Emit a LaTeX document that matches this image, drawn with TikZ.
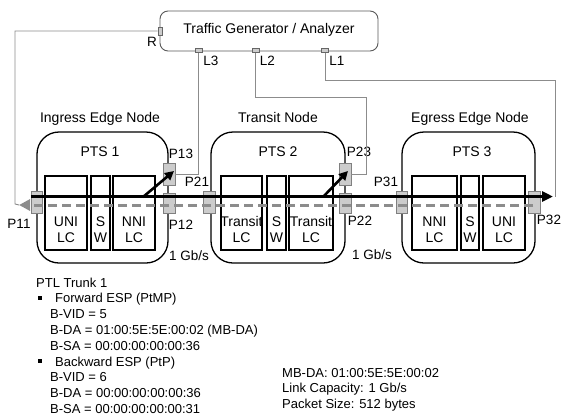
\documentclass[tikz,border=0pt]{standalone}
\usepackage{fontspec}
\setmainfont{Liberation Sans}
\usetikzlibrary{arrows.meta}
\begin{document}
\begin{tikzpicture}[x=1pt,y=-1pt,
  lab/.style={inner sep=0pt, text height=0.716em, text depth=0pt, font=\fontsize{14}{16}\selectfont},
  plab/.style={lab, font=\fontsize{13.5}{16}\selectfont},
  small/.style={inner sep=0pt, anchor=base west, font=\fontsize{13}{15}\selectfont},
  container/.style={draw, line width=1.3pt, rounded corners=22pt, inner sep=0pt, minimum height=131pt},
  lcbox/.style={draw, line width=1.3pt, inner sep=0pt, minimum height=74pt},
  port/.style={draw=black!50, fill=black!20, line width=0.7pt, inner sep=0pt, minimum width=12pt, minimum height=22pt},
  tport/.style={draw=black!60, fill=black!20, line width=0.6pt, inner sep=0pt},
  tgbox/.style={draw=black!65, line width=0.9pt, rounded corners=8pt, inner sep=0pt},
  conn/.style={draw=black!45, line width=0.9pt},
  fwd/.style={draw=black, line width=3pt, -{Triangle[length=11pt,width=10pt]}},
  bwd/.style={draw=black!45, line width=3pt, dash pattern=on 9pt off 5pt, -{Triangle[length=11pt,width=11pt]}},
  diag/.style={draw=black, line width=2.6pt, -{Triangle[length=9pt,width=9pt]}},
  bul/.style={fill=black, inner sep=0pt, minimum size=4pt}
]
\useasboundingbox (0,0) rectangle (563,416);

% Traffic generator
\node[tgbox, minimum width=218pt, minimum height=40pt] (tg) at (269,31) {};
\node[lab] (tgl) at (269,29.5) {Traffic Generator / Analyzer};
\node[tport, minimum width=4pt, minimum height=8pt] (R) at (160,31) {};
\node[tport, minimum width=7pt, minimum height=4pt] (L3) at (198.5,50.5) {};
\node[tport, minimum width=7pt, minimum height=4pt] (L2) at (255.5,50.5) {};
\node[tport, minimum width=7pt, minimum height=4pt] (L1) at (325,50.5) {};
\node[plab] (Rl) at (152,43) {R};
\node[plab] (L3l) at (211,62) {L3};
\node[plab] (L2l) at (267.5,62) {L2};
\node[plab] (L1l) at (337,62) {L1};

% Containers
\node[container, minimum width=131pt] (ing) at (102.5,197.5) {};
\node[container, minimum width=134pt] (tra) at (278,197.5) {};
\node[container, minimum width=133pt] (egr) at (468.5,197.5) {};
\node[lab] (ingl) at (100,119) {Ingress Edge Node};
\node[lab] (tral) at (278,119) {Transit Node};
\node[lab] (egrl) at (470,119) {Egress Edge Node};
\node[lab] (pts1) at (100,153) {PTS 1};
\node[lab] (pts2) at (278,153) {PTS 2};
\node[lab] (pts3) at (472,153) {PTS 3};

% Line cards
\node[lcbox, minimum width=42pt] (b11) at (66,213) {};
\node[lcbox, minimum width=19pt] (b12) at (100.5,213) {};
\node[lcbox, minimum width=42pt] (b13) at (134,213) {};
\node[lcbox, minimum width=41pt] (b21) at (241.5,213) {};
\node[lcbox, minimum width=19pt] (b22) at (276.5,213) {};
\node[lcbox, minimum width=44pt] (b23) at (311,213) {};
\node[lcbox, minimum width=45pt] (b31) at (434.5,213) {};
\node[lcbox, minimum width=18pt] (b32) at (470,213) {};
\node[lcbox, minimum width=42pt] (b33) at (504,213) {};

\node[lab] (t11a) at (66,223) {UNI};   \node[lab] (t11b) at (66,239) {LC};
\node[lab] (t12a) at (100.5,223) {S};  \node[lab] (t12b) at (100.5,239) {W};
\node[lab] (t13a) at (134,223) {NNI};  \node[lab] (t13b) at (134,239) {LC};
\node[lab] (t21a) at (241.5,223) {Transit}; \node[lab] (t21b) at (241.5,239) {LC};
\node[lab] (t22a) at (276.5,223) {S};  \node[lab] (t22b) at (276.5,239) {W};
\node[lab] (t23a) at (311,223) {Transit}; \node[lab] (t23b) at (311,239) {LC};
\node[lab] (t31a) at (434.5,223) {NNI}; \node[lab] (t31b) at (434.5,239) {LC};
\node[lab] (t32a) at (470,223) {S};    \node[lab] (t32b) at (470,239) {W};
\node[lab] (t33a) at (504,223) {UNI};  \node[lab] (t33b) at (504,239) {LC};

% Ports
\node[port, minimum width=11pt] (P11) at (36.5,202) {};
\node[port, minimum height=20pt] (P12) at (169,203) {};
\node[port] (P13) at (169,174) {};
\node[port] (P21) at (209,202) {};
\node[port, minimum height=20pt] (P22) at (345,203) {};
\node[port] (P23) at (345,174) {};
\node[port, minimum width=11pt] (P31) at (401.5,202) {};
\node[port] (P32) at (534,202) {};
\node[plab] (P11l) at (19,225) {P11};
\node[plab] (P12l) at (181,226) {P12};
\node[plab] (P13l) at (181,155) {P13};
\node[plab] (P21l) at (197,183) {P21};
\node[plab] (P22l) at (360,222) {P22};
\node[plab] (P23l) at (359,153) {P23};
\node[plab] (P31l) at (386,183) {P31};
\node[plab] (P32l) at (549,221) {P32};
\node[plab] (g1) at (189,257) {1 Gb/s};
\node[plab] (g2) at (372,256) {1 Gb/s};

% Connectors to the traffic generator
\coordinate (fwdS) at (31,196.5);
\coordinate (fwdE) at (553,196.5);
\coordinate (bwdS) at (533,205);
\coordinate (bwdE) at (19,205);
\coordinate (rc) at (15,204);
\coordinate (l2a) at (366,97);
\coordinate (l1a) at (555,80);
\coordinate (l1b) at (555,196.5);
\draw[conn] (R.west) -| (rc) -- (bwdE);
\draw[conn] (L3.south) |- (P13.east);
\draw[conn] (L2.south) |- (l2a) |- (P23.east);
\draw[conn] (L1.south) |- (l1a) -- (l1b);

% Trunk lines
\draw[bwd] (bwdS) -- (bwdE);
\draw[fwd] (fwdS) -- (fwdE);
\coordinate (d1s) at (143,197);
\coordinate (d1e) at (174,171);
\coordinate (d2s) at (323,197);
\coordinate (d2e) at (348,171);
\draw[diag] (d1s) -- (d1e);
\draw[diag] (d2s) -- (d2e);

% Bottom-left text
\node[small] (x0) at (36,287) {PTL Trunk 1};
\node[bul] (bu1) at (39.5,298) {};
\node[small] (x1) at (55,302.8) {Forward ESP (PtMP)};
\node[small] (x2) at (50,318.6) {B-VID = 5};
\node[small] (x3) at (50,334.4) {B-DA = 01:00:5E:5E:00:02 (MB-DA)};
\node[small] (x4) at (50,350.2) {B-SA = 00:00:00:00:00:36};
\node[bul] (bu2) at (39.5,361.2) {};
\node[small] (x5) at (55,366.0) {Backward ESP (PtP)};
\node[small] (x6) at (50,381.8) {B-VID = 6};
\node[small] (x7) at (50,397.6) {B-DA = 00:00:00:00:00:36};
\node[small] (x8) at (50,413.4) {B-SA = 00:00:00:00:00:31};

% Bottom-right text
\node[small] (y0) at (282,377.2) {MB-DA: 01:00:5E:5E:00:02};
\node[small] (y1) at (282,392.7) {Link Capacity: 1 Gb/s};
\node[small] (y2) at (282,408.2) {Packet Size: 512 bytes};
\end{tikzpicture}
\end{document}
